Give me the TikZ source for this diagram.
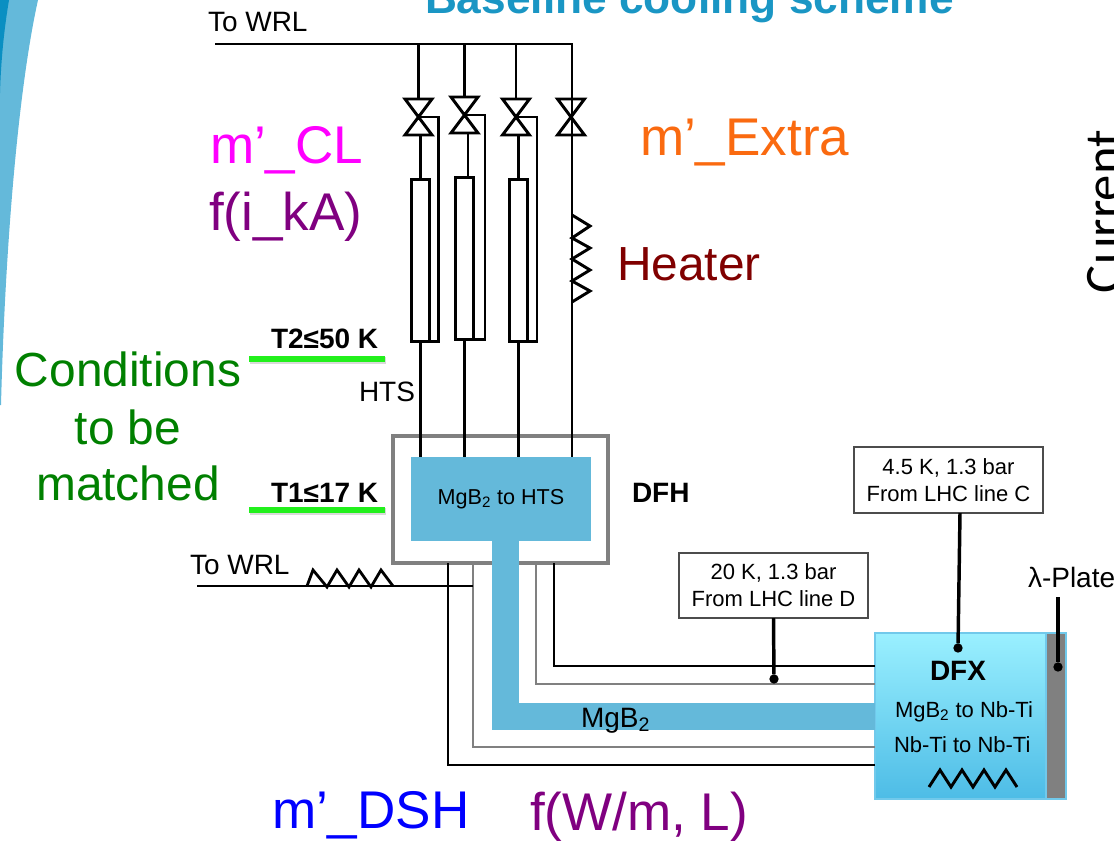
\documentclass[tikz,border=0pt]{standalone}
\usepackage{fontspec}
\setmainfont{Liberation Sans}
\newfontfamily\currentfont{Carlito}
\usetikzlibrary{calc,shadows}
\definecolor{tubeblue}{HTML}{64B9DA}
\definecolor{titleblue}{HTML}{1A96C4}
\definecolor{swoopdark}{HTML}{0A8FC2}
\definecolor{pipegray}{HTML}{808080}
\definecolor{bargreen}{HTML}{22F01C}
\definecolor{dfxtop}{HTML}{9AF0FF}
\definecolor{dfxbottom}{HTML}{4DBCE6}
\definecolor{extraorange}{HTML}{FA6A10}
\definecolor{clmagenta}{HTML}{FF00FF}

\begin{document}
\begin{tikzpicture}[x=.75pt, y=-.75pt, inner sep=0pt, outer sep=0pt,
    pipe/.style={draw=black, line width=2.2pt},
    thinpipe/.style={draw=black, line width=2.1pt},
    graypipe/.style={draw=pipegray, line width=2.1pt},
    feed/.style={draw=black, line width=2.6pt},
    valve/.style={minimum width=20.25pt, minimum height=27pt},
    lead/.style={rectangle, draw=black, line width=2.2pt, minimum width=13.5pt, minimum height=122pt},
    dot/.style={circle, fill=black, minimum size=7pt},
    bar/.style={rectangle, fill=bargreen, minimum width=102pt, minimum height=5pt, drop shadow={shadow xshift=.6pt, shadow yshift=-1.2pt, opacity=.3}},
    infobox/.style={rectangle, draw=black!70, line width=.9pt, align=center, font=\fontsize{16.5}{20.25}\selectfont, minimum width=141.75pt},
    lab/.style={anchor=base west, font=\fontsize{21}{24}\selectfont},
    boldlab/.style={anchor=base west, font=\fontsize{21}{24}\selectfont\bfseries},
    smalllab/.style={anchor=base west, font=\fontsize{16.5}{20}\selectfont},
    biglab/.style={anchor=base west, font=\fontsize{39.8}{44}\selectfont},
    midlab/.style={anchor=base west, font=\fontsize{35.9}{40}\selectfont}]

  \clip (0,0) rectangle (1114,840);

  \fill[tubeblue] (0,0) -- (38,0) .. controls (18,90) and (5,250) .. (1,405) -- (0,405) -- cycle;
  \fill[swoopdark] (0,0) -- (9,0) .. controls (4,30) and (1,60) .. (0,93) -- cycle;

  \node[anchor=base west, text=titleblue, font=\fontsize{33.2}{36}\selectfont\bfseries] (title) at (425,13) {Baseline cooling scheme};

  \node[lab] (wrltoplab) at (208,31) {To WRL};
  \coordinate (wrltop) at (215,44);
  \coordinate (buscorner) at (572,44);

  \node[valve] (v1) at (418.5,117) {};
  \node[valve] (v2) at (464.5,115) {};
  \node[valve] (v3) at (516,117) {};
  \node[valve] (v4) at (571,117) {};

  \node[lead] (lead1) at (420.5,260.5) {};
  \node[lead] (lead2) at (464.5,258.5) {};
  \node[lead] (lead3) at (518.5,260.5) {};

  \node[rectangle, draw=pipegray, line width=2.3pt, minimum width=161.25pt, minimum height=95.25pt] (dfh) at (500.5,499.5) {};
  \node[rectangle, fill=tubeblue, minimum width=135pt, minimum height=63pt, font=\fontsize{16.2}{20}\selectfont] (mgb) at (501,499) {MgB\textsubscript{2} to HTS};

  \draw[pipe] (wrltop) -- (buscorner) -- (buscorner |- mgb.north);
  \draw[pipe] (v1.north |- wrltop) -- (v1.north);
  \draw[pipe] (v2.north |- wrltop) -- (v2.north);
  \draw[pipe] (v3.north |- wrltop) -- (v3.north);

  \draw[pipe] (v1.north west) -- (v1.north east) -- (v1.south west) -- (v1.south east) -- cycle;
  \draw[pipe] (v2.north west) -- (v2.north east) -- (v2.south west) -- (v2.south east) -- cycle;
  \draw[pipe] (v3.north west) -- (v3.north east) -- (v3.south west) -- (v3.south east) -- cycle;
  \draw[pipe] (v4.north west) -- (v4.north east) -- (v4.south west) -- (v4.south east) -- cycle;

  \coordinate (stub2) at (468,133);
  \draw[pipe] (lead1.north) -- (lead1.north |- v1.south);
  \draw[pipe] (stub2) -- (stub2 |- lead2.north);
  \draw[pipe] (lead3.north) -- (lead3.north |- v3.south);

  \coordinate (side1) at (438.5,117);
  \coordinate (side2) at (485,115);
  \coordinate (side3) at (537,117);
  \draw[thinpipe] (v1.center) -- (side1) -- (side1 |- lead1.south) -- (lead1.south);
  \draw[thinpipe] (v2.center) -- (side2) -- (side2 |- lead2.south) -- (lead2.south);
  \draw[thinpipe] (v3.center) -- (side3) -- (side3 |- lead3.south) -- (lead3.south);

  \draw[thinpipe] (lead1.south) -- (lead1.south |- mgb.north);
  \draw[thinpipe] (lead2.south) -- (lead2.south |- mgb.north);
  \draw[thinpipe] (lead3.south) -- (lead3.south |- mgb.north);

  \coordinate (heat) at (572,215);
  \draw[pipe] (heat) -- ++(18,11) -- ++(-18,12) -- ++(18,10) -- ++(-18,11) -- ++(18,11) -- ++(-18,11) -- ++(18,10) -- ++(-18,11);

  \node[biglab, text=clmagenta] (mcl) at (210,163) {m’\_CL};
  \node[biglab, text=violet] (fi) at (209,230) {f(i\_kA)};
  \node[biglab, text=extraorange] (mextra) at (640,155) {m’\_Extra};
  \node[midlab, text=black!50!red] (heater) at (617,280) {Heater};

  \node[boldlab] (t2lab) at (271,348) {T2≤50 K};
  \node[bar] (t2bar) at (317,359) {};
  \node[lab] (htslab) at (359,401) {HTS};
  \node[boldlab] (t1lab) at (271,502) {T1≤17 K};
  \node[bar] (t1bar) at (317,510) {};
  \node[boldlab] (dfhlab) at (632,502) {DFH};

  \node[midlab, anchor=base, text=black!50!green] (cond1) at (128,386) {Conditions};
  \node[midlab, anchor=base, text=black!50!green] (cond2) at (128,444) {to be};
  \node[midlab, anchor=base, text=black!50!green] (cond3) at (128,500) {matched};

  \node[rectangle, top color=dfxtop, bottom color=dfxbottom, draw=dfxbottom!80!white, line width=.8pt, minimum width=128.25pt, minimum height=124.5pt, drop shadow={shadow xshift=.6pt, shadow yshift=-1pt, opacity=.25}] (dfx) at (960.5,716) {};
  \node[rectangle, fill=pipegray, draw=dfxbottom!80!white, line width=.8pt, minimum width=15pt, minimum height=124.5pt] (plate) at (1056,716) {};

  \coordinate (tubetop) at (505.5,541);
  \coordinate (tubecorner) at (505.5,716);
  \draw[draw=tubeblue, line width=20.25pt] (tubetop) -- (tubecorner |- dfx.west) -- (dfx.west);
  \node[lab] (mgblab) at (581,727) {MgB\textsubscript{2}};

  \coordinate (outa) at (448,563);
  \coordinate (outb) at (473,563);
  \coordinate (outc) at (536,563);
  \coordinate (outd) at (554,563);
  \coordinate (ina) at (875,765);
  \coordinate (inb) at (875,747);
  \coordinate (inc) at (875,684);
  \coordinate (ind) at (875,666);
  \draw[thinpipe] (outa) |- (ina);
  \draw[graypipe] (outb) |- (inb);
  \draw[graypipe] (outc) |- (inc);
  \draw[thinpipe] (outd) |- (ind);

  \node[lab] (wrllowlab) at (190,574) {To WRL};
  \coordinate (wrllow) at (197,586);
  \coordinate (wrlend) at (473,586);
  \coordinate (zig) at (307,586);
  \draw[thinpipe] (wrllow) -- (wrlend);
  \draw[thinpipe] (zig) -- ++(6,-16) -- ++(14,17) -- ++(10,-17) -- ++(12,17) -- ++(10,-17) -- ++(12,17) -- ++(10,-17) -- ++(12,16);

  \node[infobox, minimum height=49.5pt, text depth=0pt] (box1) at (948.5,480) {4.5 K, 1.3 bar\\From LHC line C};
  \node[infobox, minimum height=48.75pt, text depth=0pt] (box2) at (773.5,585.5) {20 K, 1.3 bar\\From LHC line D};

  \node[dot] (dfxdot) at (958,648) {};
  \node[dot] (linedot) at (774,679) {};
  \node[dot] (platedot) at (1058,667) {};
  \coordinate (box1out) at (960,513);
  \coordinate (platetop) at (1058,597);
  \draw[feed] (box1out) -- (dfxdot);
  \draw[feed] (box2.south) -- (linedot);
  \draw[feed] (platetop) -- (platedot);

  \node[lab] (platelab) at (1028,587) {λ-Plate};
  \node[anchor=base west, font=\fontsize{21}{24}\selectfont\bfseries] (dfxlab) at (930,680) {DFX};
  \node[smalllab] (dfxa) at (895,717) {MgB\textsubscript{2} to Nb-Ti};
  \node[smalllab] (dfxb) at (894,752) {Nb-Ti to Nb-Ti};
  \coordinate (dfxzig) at (929,787);
  \draw[pipe] (dfxzig) -- ++(11,-17) -- ++(11,17) -- ++(11,-17) -- ++(11,17) -- ++(11,-17) -- ++(11,17) -- ++(11,-17) -- ++(11,17);

  \node[biglab, text=blue] (mdsh) at (272,828) {m’\_DSH};
  \node[biglab, text=violet] (fw) at (530,830) {f(W/m, L)};

  \node[rotate=90, anchor=base west, font=\currentfont\fontsize{39.5}{42}\selectfont] (current) at (1121,293) {Current};

\end{tikzpicture}
\end{document}
